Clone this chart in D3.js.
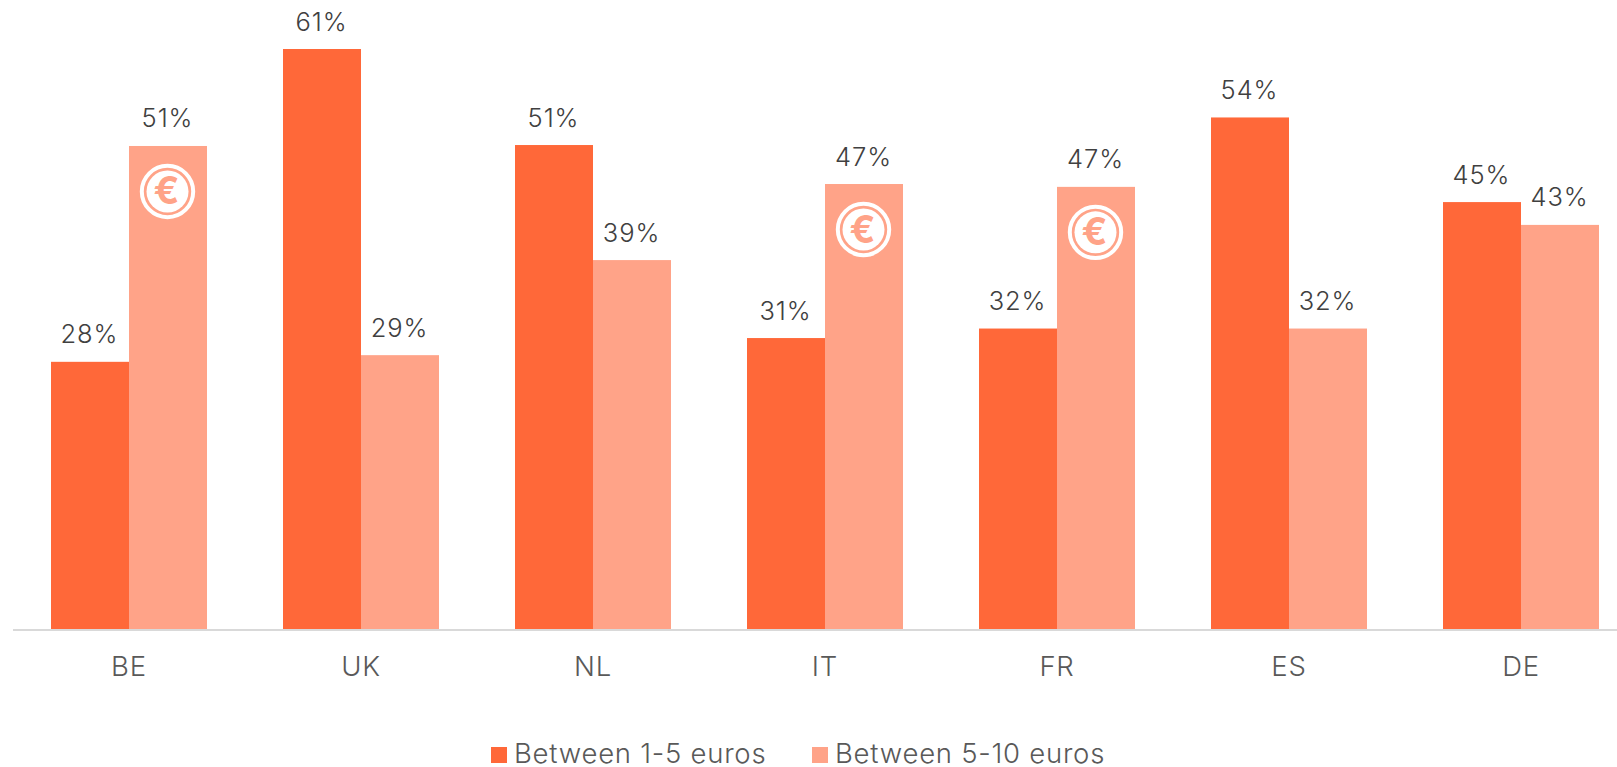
<!DOCTYPE html>
<html><head><meta charset="utf-8">
<script src="https://cdn.jsdelivr.net/npm/d3@7"></script>
<style>
html,body{margin:0;padding:0;background:#fff;overflow:hidden}
svg{display:block;font-family:Inter,"Open Sans",sans-serif}
</style></head><body>
<div id="chart"></div>
<script>
const categories = ["BE","UK","NL","IT","FR","ES","DE"];
const seriesNames = ["Between 1-5 euros","Between 5-10 euros"];
const low = [28.1,61,50.9,30.6,31.6,53.8,44.9];
const high = [50.8,28.8,38.8,46.8,46.5,31.6,42.5];
const lowLabels = ["28%","61%","51%","31%","32%","54%","45%"];
const highLabels = ["51%","29%","39%","47%","47%","32%","43%"];
const euroCategories = ["BE","IT","FR"];
const colors = ["#ff6839","#ffa388"];

const W=1617,H=767, base=629;
const svg=d3.select("#chart").append("svg").attr("width",W).attr("height",H);
const x=d3.scaleBand().domain(categories).range([13,1637]).paddingInner(0.3276).paddingOuter(0.1638);
const inner=d3.scaleBand().domain([0,1]).range([0,x.bandwidth()]);
const y=d3.scaleLinear().domain([0,61]).range([base,49]);

const rows=categories.map((c,i)=>({c,vals:[low[i],high[i]],labs:[lowLabels[i],highLabels[i]]}));
const g=svg.selectAll("g.cat").data(rows).join("g").attr("class","cat").attr("transform",d=>`translate(${x(d.c)},0)`);
const marks=g.selectAll("g.m").data(d=>d.vals.map((v,k)=>({v,k,lab:d.labs[k],c:d.c}))).join("g").attr("class","m");
marks.append("rect").attr("x",d=>inner(d.k)).attr("width",inner.bandwidth())
  .attr("y",d=>y(d.v)).attr("height",d=>base-y(d.v)).attr("fill",d=>colors[d.k]);
marks.append("text").attr("x",d=>inner(d.k)+inner.bandwidth()/2-0.5).attr("y",d=>y(d.v)-18.5)
  .attr("text-anchor","middle").attr("font-size",25.5).attr("font-weight",350).attr("letter-spacing",0.9).attr("fill","#404040").text(d=>d.lab);

const euro=marks.filter(d=>d.k===1&&euroCategories.includes(d.c)).append("g")
  .attr("transform",d=>`translate(${inner(d.k)+inner.bandwidth()/2-0.5},${y(d.v)+45.5})`);
euro.append("circle").attr("r",25.7).attr("fill","none").attr("stroke","#fff").attr("stroke-width",4);
euro.append("circle").attr("r",21).attr("fill","#fff");
euro.append("text").attr("text-anchor","middle").attr("x",-1).attr("y",13).attr("font-size",38).attr("font-weight",700).attr("fill",colors[1]).text("€");

const axis=svg.append("g").attr("transform",`translate(0,${base+1})`).call(d3.axisBottom(x).tickSize(0).tickPadding(26));
axis.select(".domain").attr("stroke","#d9d9d9").attr("stroke-width",2).attr("d","M13,0H1617");
axis.selectAll("text").attr("font-size",27.5).attr("font-weight",350).attr("letter-spacing",0.8).attr("font-family","Inter").attr("fill","#595959");

const legendX=[491,812];
const leg=svg.selectAll("g.leg").data(seriesNames).join("g").attr("class","leg").attr("transform",(d,i)=>`translate(${legendX[i]},0)`);
leg.append("rect").attr("y",747).attr("width",16).attr("height",16).attr("fill",(d,i)=>colors[i]);
leg.append("text").attr("x",23).attr("y",763).attr("font-size",27.5).attr("font-weight",350).attr("letter-spacing",0.75).attr("fill","#595959").text(d=>d);
</script></body></html>
